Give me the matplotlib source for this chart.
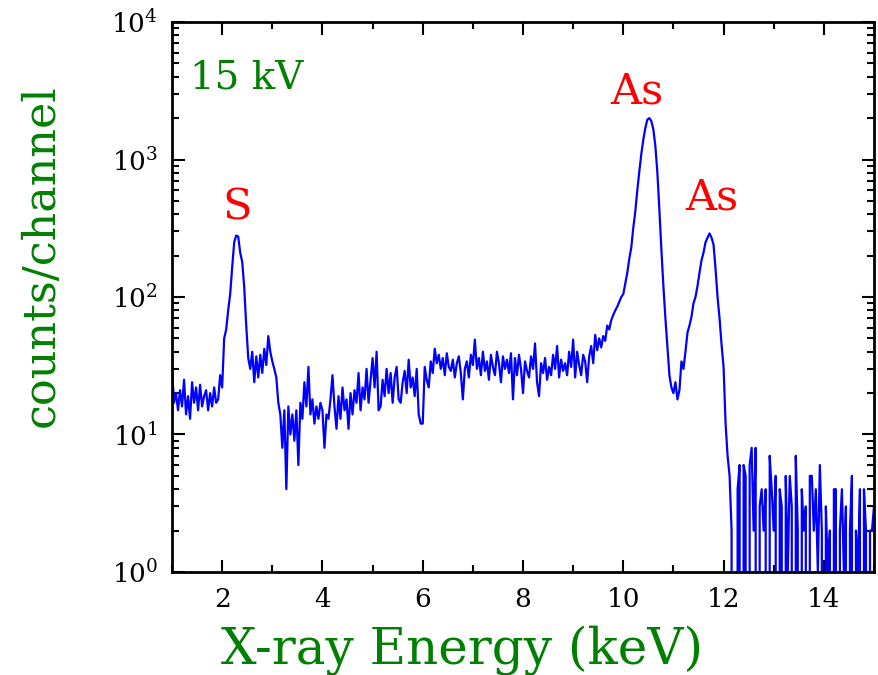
import numpy as np
import matplotlib.pyplot as plt

# channel energies (keV), 0.04 keV per channel
energy_start = 1.0
energy_step = 0.04

# counts per channel, one line per keV
counts = [
    30, 17, 20, 15, 21, 16, 25, 14, 19, 13, 24, 17, 22, 15, 23, 16, 19, 21, 15, 20, 16, 22, 17, 18, 27,
    22, 50, 58, 80, 105, 165, 250, 280, 275, 210, 180, 118, 62, 36, 30, 40, 24, 37, 26, 38, 28, 42, 32, 52, 40,
    34, 30, 26, 17, 14, 8, 15, 4, 16, 10, 14, 9, 15, 6, 17, 13, 24, 16, 31, 14, 18, 12, 16, 13, 17,
    15, 8, 14, 13, 18, 27, 16, 11, 19, 13, 22, 15, 18, 11, 20, 14, 21, 17, 28, 15, 22, 18, 30, 17, 25,
    36, 22, 40, 15, 16, 25, 19, 30, 20, 28, 17, 26, 31, 18, 17, 24, 29, 20, 35, 22, 26, 19, 30, 14, 12,
    12, 31, 25, 22, 34, 28, 42, 33, 38, 30, 36, 27, 39, 31, 29, 35, 26, 33, 37, 28, 18, 30, 34, 26, 38,
    32, 49, 30, 36, 27, 40, 29, 34, 25, 38, 31, 27, 40, 33, 24, 37, 30, 35, 28, 39, 18, 36, 27, 38, 30,
    20, 34, 29, 26, 37, 30, 46, 24, 19, 33, 28, 36, 25, 31, 27, 38, 30, 44, 26, 35, 29, 33, 27, 40, 31,
    49, 26, 40, 32, 27, 38, 34, 24, 37, 44, 33, 53, 41, 50, 43, 52, 48, 62, 58, 68, 74, 80, 85, 92, 100,
    105, 125, 150, 190, 230, 320, 420, 600, 820, 1100, 1400, 1700, 1950, 2000, 1900, 1650, 1250, 800, 430, 220, 120, 70, 43, 27, 22,
    20, 24, 18, 21, 34, 30, 40, 55, 62, 72, 90, 100, 120, 150, 185, 210, 250, 270, 290, 270, 240, 160, 100, 70, 45,
    31, 12, 7, 5, 2, 0, 0, 4, 6, 0, 6, 5, 0, 6, 8, 2, 8, 0, 3, 4, 2, 4, 0, 7, 4,
    2, 5, 0, 4, 3, 0, 5, 1, 5, 3, 0, 7, 2, 0, 4, 2, 3, 0, 5, 5, 2, 4, 1, 6, 2,
    0, 3, 1, 2, 0, 4, 4, 0, 2, 4, 1, 3, 0, 2, 5, 0, 2, 1, 4, 0, 4, 2, 0, 2, 2,
    3,
]

peak_names = ["S", "As", "As"]
peak_x = [2.3, 10.28, 11.76]
peak_y = [444, 3100, 525]

energy = energy_start + energy_step * np.arange(len(counts))

plt.rcParams['font.family'] = 'DejaVu Serif'

fig = plt.figure(figsize=(8.79, 6.75), dpi=100)
ax = fig.add_axes([0.1957, 0.1526, 0.7986, 0.8148])

ax.plot(energy, counts, color='blue', lw=1.6)
ax.set_yscale('log', nonpositive='clip')
ax.set_xlim(1, 15)
ax.set_ylim(1, 1e4)

ax.set_xticks([2, 4, 6, 8, 10, 12, 14])
ax.set_xticks([1, 3, 5, 7, 9, 11, 13, 15], minor=True)
ax.tick_params(which='both', direction='in', top=True, right=True, labelsize=19, width=1.5)
ax.tick_params(which='major', length=9)
ax.tick_params(axis='x', which='major', pad=11)
ax.tick_params(axis='y', which='major', pad=10)
ax.tick_params(which='minor', length=5)
for s in ax.spines.values():
    s.set_linewidth(2)

# labels
ax.set_xlabel("X-ray Energy (keV)", color='green', fontsize=36)
ax.xaxis.set_label_coords(0.413, -0.096)
ax.set_ylabel("counts/channel", color='green', fontsize=32)
ax.yaxis.set_label_coords(-0.155, 0.576)
ax.text(0.026, 0.898, "15 kV", color='green', fontsize=28, transform=ax.transAxes, va='center')
for name, x, y in zip(peak_names, peak_x, peak_y):
    ax.text(x, y, name, color='red', fontsize=31, ha='center', va='center')

fig.savefig("out.png", dpi=100)
